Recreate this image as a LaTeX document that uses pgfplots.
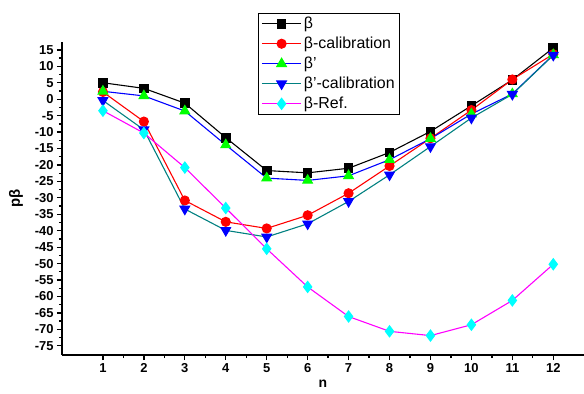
\documentclass[border=0pt]{standalone}
\usepackage{pgfplots}
\pgfplotsset{compat=1.18}
\usepackage{fontspec}
\setmainfont{Liberation Sans}
\definecolor{myteal}{RGB}{0,128,128}
\definecolor{mygreen}{RGB}{0,255,0}
\definecolor{mycyan}{RGB}{0,255,255}
\definecolor{mymag}{RGB}{255,0,255}
\begin{document}
\begin{tikzpicture}
\begin{axis}[
  scale only axis,
  width=522bp, height=313bp,
  xmin=0, xmax=12.75,
  ymin=-77.8, ymax=17.4,
  axis x line=bottom, axis y line=left,
  axis line style={-, line width=1.6pt},
  xtick={1,...,12},
  ytick={-75,-70,...,15},
  minor x tick num=1, minor y tick num=1,
  tick align=outside,
  major tick length=5bp, minor tick length=3bp,
  every tick/.style={black, line width=1.3pt},
  /pgf/number format/assume math mode=true,
  ticklabel style={font=\bfseries\fontsize{13}{13}\selectfont},
  xlabel={\bfseries n}, ylabel={\bfseries pβ},
  xlabel style={font=\bfseries\fontsize{14}{14}\selectfont, yshift=0bp},
  ylabel style={font=\bfseries\fontsize{15}{15}\selectfont, yshift=5bp},
  legend style={at={(axis description cs:0.3755,1.0927)}, anchor=north west,
    draw=black, font=\fontsize{16}{16}\selectfont,
    row sep=3bp, inner sep=2bp, inner xsep=3bp},
  legend cell align=left,
  every axis plot/.append style={line width=1.1pt},
  every axis plot post/.append style={
    legend image code/.code={\draw[mark repeat=2,mark phase=2,##1,line width=1.1pt] plot coordinates {(0cm,0cm) (0.7cm,0cm) (1.4cm,0cm)};}},
  clip=false,
]
\addplot[black, mark=square*, mark size=4.3bp, mark options={fill=black}] coordinates {
(1,5.0) (2,3.3) (3,-1.2) (4,-11.7) (5,-21.7) (6,-22.4) (7,-21.0) (8,-16.2) (9,-9.8) (10,-2.0) (11,5.9) (12,15.6)};
\addlegendentry{β}
\addplot[red, mark=*, mark size=4.5bp, mark options={fill=red}] coordinates {
(1,2.2) (2,-6.8) (3,-30.8) (4,-37.3) (5,-39.3) (6,-35.3) (7,-28.6) (8,-20.3) (9,-11.9) (10,-3.3) (11,6.0) (12,13.7)};
\addlegendentry{β-calibration}
\addplot[blue, mark=triangle*, mark size=5.5bp, mark options={fill=mygreen, draw=mygreen}] coordinates {
(1,2.4) (2,1.0) (3,-3.6) (4,-13.9) (5,-24.0) (6,-24.7) (7,-23.3) (8,-18.4) (9,-12.0) (10,-4.5) (11,1.6) (12,13.5)};
\addlegendentry{β'}
\addplot[myteal, mark=triangle*, mark size=5.5bp, mark options={fill=blue, draw=blue, rotate=180}] coordinates {
(1,-0.4) (2,-9.3) (3,-33.4) (4,-39.9) (5,-41.9) (6,-37.9) (7,-31.1) (8,-23.0) (9,-14.4) (10,-5.7) (11,1.5) (12,13.4)};
\addlegendentry{β'-calibration}
\addplot[mymag, mark=diamond*, mark size=5.5bp, mark options={fill=mycyan, draw=mycyan}] coordinates {
(1,-3.5) (2,-10.3) (3,-20.8) (4,-33.1) (5,-45.5) (6,-57.1) (7,-66.1) (8,-70.6) (9,-71.9) (10,-68.6) (11,-61.2) (12,-50.2)};
\addlegendentry{β-Ref.}
\end{axis}
\pgfresetboundingbox
\path (-62bp,-39bp) rectangle (522bp,355bp);
\end{tikzpicture}
\end{document}
